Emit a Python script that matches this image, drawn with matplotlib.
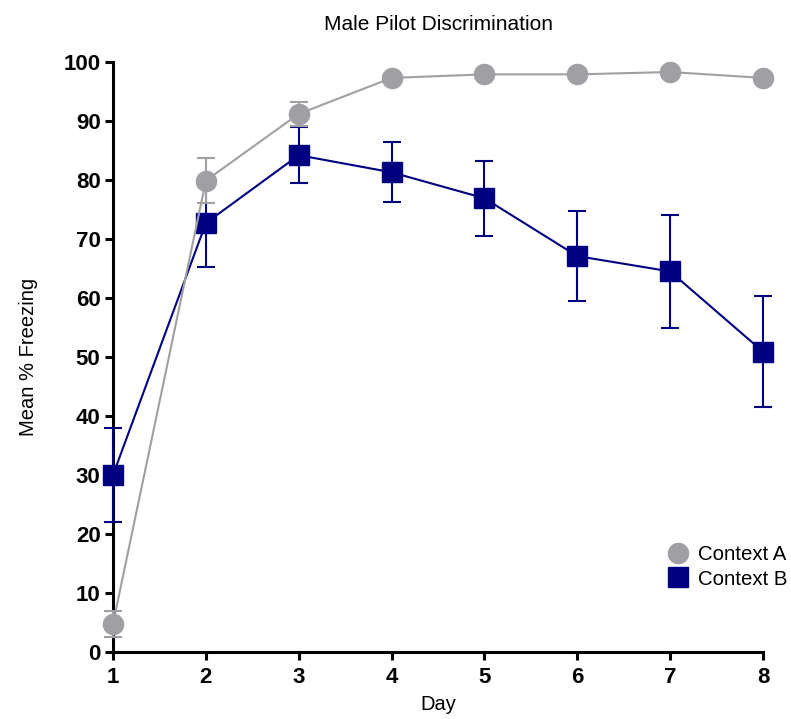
import matplotlib
matplotlib.use("Agg")
import matplotlib.pyplot as plt
from matplotlib.lines import Line2D

plt.rcParams['font.family'] = ['Liberation Sans', 'DejaVu Sans']

days = [1, 2, 3, 4, 5, 6, 7, 8]
context_a = [4.8, 79.9, 91.2, 97.3, 97.9, 97.9, 98.3, 97.3]
context_a_sem = [2.2, 3.85, 2.1, 0.6, 0.5, 0.5, 0.4, 0.6]
context_b = [30.0, 72.7, 84.2, 81.3, 76.9, 67.1, 64.5, 50.9]
context_b_sem = [7.9, 7.4, 4.7, 5.1, 6.4, 7.6, 9.6, 9.4]

gray = '#A0A0A4'
navy = '#000080'

fig = plt.figure(figsize=(7.91, 7.19), dpi=100)
ax = fig.add_axes([0.1429, 0.0932, 0.9646 - 0.1429, 0.9138 - 0.0932])

ax.errorbar(days, context_b, yerr=context_b_sem, color=navy, marker='s',
            markersize=14, linewidth=1.5, elinewidth=1.5, capsize=6.8,
            capthick=1.5, clip_on=False, zorder=3, label='Context B')
ax.errorbar(days, context_a, yerr=context_a_sem, color=gray, marker='o',
            markersize=14.5, linewidth=1.5, elinewidth=1.5, capsize=6.8,
            capthick=1.5, clip_on=False, zorder=4, label='Context A')

ax.set_xlim(1, 8)
ax.set_ylim(0, 100)
ax.set_xticks(days)
ax.set_yticks(range(0, 101, 10))
for s in ['top', 'right']:
    ax.spines[s].set_visible(False)
for s in ['left', 'bottom']:
    ax.spines[s].set_linewidth(2.2)
ax.tick_params(axis='both', direction='out', length=6, width=2.2,
               labelsize=16, pad=3)
ax.tick_params(axis='x', pad=5)
for lbl in ax.get_xticklabels() + ax.get_yticklabels():
    lbl.set_fontweight('bold')

ax.set_xlabel('Day', fontsize=14.5, labelpad=5)
ax.set_ylabel('Mean % Freezing', fontsize=14.5, labelpad=18)
ax.set_title('Male Pilot Discrimination', fontsize=15, pad=23)

handles = [
    Line2D([], [], color=gray, marker='o', linestyle='none', markersize=14.5),
    Line2D([], [], color=navy, marker='s', linestyle='none', markersize=14),
]
ax.legend(handles, ['Context A', 'Context B'], loc='center left',
          bbox_to_anchor=(0.838, 0.144), frameon=False, fontsize=14.7,
          handletextpad=0.35, labelspacing=0.25, borderaxespad=0,
          handlelength=1.2)

fig.savefig('out.png', dpi=100)
